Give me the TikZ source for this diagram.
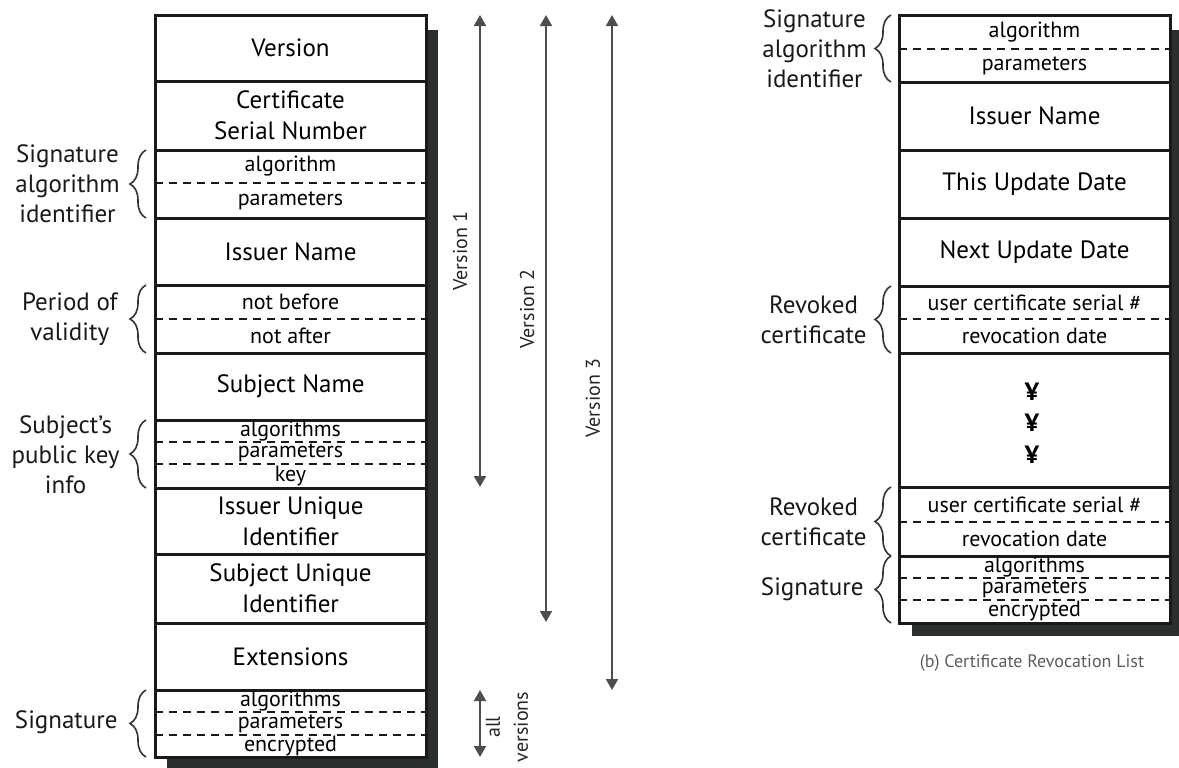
\documentclass[tikz,border=0pt]{standalone}
\usepackage{fontspec}
\setmainfont{PT Sans}
\usetikzlibrary{arrows.meta,decorations.pathreplacing}
\definecolor{celledge}{HTML}{1A1A1A}
\definecolor{shadowgray}{HTML}{2B302E}
\definecolor{rangegray}{HTML}{4E4E4E}
\definecolor{captiongray}{HTML}{5C5C5C}

\begin{document}
\begin{tikzpicture}[
  x={(0.5pt,0pt)},
  y={(0pt,-0.5pt)},
  line join=miter,
  cell/.style={draw=celledge,line width=1.5pt},
  subline/.style={draw=celledge,line width=1pt,dash pattern=on 4pt off 3pt},
  shadow/.style={fill=shadowgray},
  bigtext/.style={font=\fontsize{12.5}{15.5}\selectfont,text=black,inner sep=0pt,align=center},
  smalltext/.style={font=\fontsize{11}{13}\selectfont,text=black,inner sep=0pt},
  sidelabel/.style={font=\fontsize{12.5}{15}\selectfont,text=black!90,align=center,anchor=east,inner sep=0pt},
  brace/.style={draw=black!80,line width=0.8pt,decorate,decoration={brace,amplitude=8pt}},
  versionspan/.style={draw=rangegray,line width=1pt,{Triangle[length=5.5pt,width=6pt]}-{Triangle[length=5.5pt,width=6pt]}},
  spanlabel/.style={font=\fontsize{10}{14}\selectfont,text=black!85,rotate=90,align=center,inner sep=0pt}
]
  \useasboundingbox (0,0) rectangle (1179,767);

  % (a) Certificate: shadow, frame, row rules.
  \fill[shadow] (167,30) rectangle (438,770);
  \filldraw[cell,fill=white] (155,15) rectangle (426,757);
  \foreach \y in {81,150,218,285,353,420,488,554,623,690} {
    \draw[cell] (155,\y) -- (426,\y);
  }
  \foreach \y in {183,319,442,464,712,735} {
    \draw[subline] (155,\y) -- (426,\y);
  }

  % Field names.
  \node[bigtext] (version) at (290.5,48) {Version};
  \node[bigtext] (serial) at (290.5,115.5) {Certificate\\Serial Number};
  \node[bigtext] (issuer) at (290.5,251.5) {Issuer Name};
  \node[bigtext] (subject) at (290.5,386.5) {Subject Name};
  \node[bigtext] (issuerid) at (290.5,521) {Issuer Unique\\Identifier};
  \node[bigtext] (subjectid) at (290.5,588.5) {Subject Unique\\Identifier};
  \node[bigtext] (extensions) at (290.5,656.5) {Extensions};
  \foreach \y/\t [count=\i] in {166.5/algorithm,200.5/parameters,302/not before,336/not after,
                                431/algorithms,453/parameters,476/key,
                                701/algorithms,723.5/parameters,746/encrypted} {
    \node[smalltext] (certsub\i) at (290.5,\y) {\t};
  }

  % Braces and group labels on the left.
  \draw[brace] (146,218) -- (146,150);
  \draw[brace] (146,353) -- (146,285);
  \draw[brace] (146,488) -- (146,420);
  \draw[brace] (146,757) -- (146,690);
  \node[sidelabel] (certsigalg) at (120,184) {Signature\\algorithm\\identifier};
  \node[sidelabel] (validity) at (118,319) {Period of\\validity};
  \node[sidelabel] (pubkey) at (120,455) {Subject's\\public key\\info};
  \node[sidelabel] (certsig) at (118,722) {Signature};

  % Version ranges.
  \coordinate (vonetop) at (480,15);
  \coordinate (vonebot) at (480,487);
  \coordinate (vtwotop) at (546,15);
  \coordinate (vtwobot) at (546,622);
  \coordinate (vthreetop) at (612,15);
  \coordinate (vthreebot) at (612,690);
  \coordinate (alltop) at (480,690);
  \coordinate (allbot) at (480,757);
  \draw[versionspan] (vonetop) -- (vonebot);
  \draw[versionspan] (vtwotop) -- (vtwobot);
  \draw[versionspan] (vthreetop) -- (vthreebot);
  \draw[versionspan] (alltop) -- (allbot);
  \node[spanlabel] (vonelabel) at (460,251) {Version 1};
  \node[spanlabel] (vtwolabel) at (527,309) {Version 2};
  \node[spanlabel] (vthreelabel) at (593,398) {Version 3};
  \node[spanlabel] (alllabel) at (507,727) {all\\versions};

  % (b) Certificate Revocation List.
  \fill[shadow] (912,30) rectangle (1190,636);
  \filldraw[cell,fill=white] (899,15) rectangle (1170,623);
  \foreach \y in {82,150,218,286,353,487,556} {
    \draw[cell] (899,\y) -- (1170,\y);
  }
  \foreach \y in {49,319,522,578,600} {
    \draw[subline] (899,\y) -- (1170,\y);
  }

  \node[bigtext] (crlissuer) at (1034.5,116) {Issuer Name};
  \node[bigtext] (thisdate) at (1034.5,184) {This Update Date};
  \node[bigtext] (nextdate) at (1034.5,252) {Next Update Date};
  \foreach \y [count=\i] in {392,423,455} {
    \node[bigtext,font=\fontsize{12.5}{15.5}\selectfont\bfseries] (skip\i) at (1032,\y) {¥};
  }
  \foreach \y/\t [count=\i] in {32/algorithm,65.5/parameters,
                                302.5/user certificate serial \#,336/revocation date,
                                504.5/user certificate serial \#,539/revocation date,
                                567/algorithms,589/parameters,611.5/encrypted} {
    \node[smalltext] (crlsub\i) at (1034.5,\y) {\t};
  }

  % Braces and group labels on the right.
  \draw[brace] (891,82) -- (891,15);
  \draw[brace] (891,353) -- (891,286);
  \draw[brace] (891,556) -- (891,487);
  \draw[brace] (891,623) -- (891,556);
  \node[sidelabel] (crlsigalg) at (867,49) {Signature\\algorithm\\identifier};
  \node[sidelabel] (revokedone) at (867,320) {Revoked\\certificate};
  \node[sidelabel] (revokedtwo) at (867,522) {Revoked\\certificate};
  \node[sidelabel] (crlsig) at (864,589) {Signature};

  \node[font=\fontsize{9}{11}\selectfont,text=captiongray] (caption) at (1032,663) {(b) Certificate Revocation List};
\end{tikzpicture}
\end{document}
